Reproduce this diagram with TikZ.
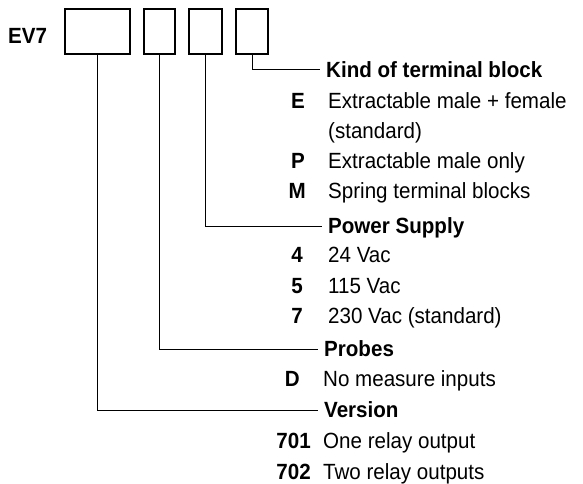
\documentclass[tikz,border=0pt]{standalone}
\usepackage{fontspec}
\setmainfont{Liberation Sans}[FakeStretch=0.935]
\usetikzlibrary{positioning}

\begin{document}
\begin{tikzpicture}[x=1pt, y=-1pt,
    every node/.style={font=\fontsize{22}{26}\selectfont, inner sep=0pt, text height=15.5pt, text depth=0pt},
    digit/.style={draw, line width=2pt, minimum height=45.6pt},
    head/.style={anchor=west, inner xsep=6pt, font=\fontsize{22}{26}\selectfont\bfseries},
    code/.style={anchor=east, font=\fontsize{22}{26}\selectfont\bfseries},
    desc/.style={anchor=west},
    lead/.style={line width=1pt}]
        \useasboundingbox (0,0) rectangle (583,484);

        % Model code and its four fields
        \node[anchor=west, font=\fontsize{22}{26}\selectfont\bfseries] (ev) at (8,36) {EV7};
        \node[digit, minimum width=65pt] (ver) at (97,31.5) {};
        \node[digit, minimum width=31.5pt] (prb) at (159.5,31.5) {};
        \node[digit, minimum width=33pt] (pwr) at (205.5,31.5) {};
        \node[digit, minimum width=32pt] (trm) at (252,31.5) {};

        % Headings
        \node[head] (trmh) at (320,70) {Kind of terminal block};
        \node[head] (pwrh) at (322,226) {Power Supply};
        \node[head] (prbh) at (318,349) {Probes};
        \node[head] (verh) at (318,410) {Version};

        % Leaders
        \draw[lead] (trm.south) |- (trmh.west);
        \draw[lead] (pwr.south) |- (pwrh.west);
        \draw[lead] (prb.south) |- (prbh.west);
        \draw[lead] (ver.south) |- (verh.west);

        % Kind of terminal block
        \node[code] (e) at (305,101) {E};
        \node[desc] (ed) at (328,101) {Extractable male + female};
        \node[desc] (es) at (328,131) {(standard)};
        \node[code] (p) at (305,161) {P};
        \node[desc] (pd) at (328,161) {Extractable male only};
        \node[code] (m) at (306,191) {M};
        \node[desc] (md) at (328,191) {Spring terminal blocks};

        % Power supply
        \node[code] (v4) at (303,255) {4};
        \node[desc] (v4d) at (328,255) {24 Vac};
        \node[code] (v5) at (303,286) {5};
        \node[desc] (v5d) at (328,286) {115 Vac};
        \node[code] (v7) at (303,316) {7};
        \node[desc] (v7d) at (328,316) {230 Vac (standard)};

        % Probes
        \node[code] (d) at (300,379) {D};
        \node[desc] (dd) at (323,379) {No measure inputs};

        % Version
        \node[code] (r1) at (311,441) {701};
        \node[desc] (r1d) at (323,441) {One relay output};
        \node[code] (r2) at (311,472) {702};
        \node[desc] (r2d) at (323,472) {Two relay outputs};
    \end{tikzpicture}
\end{document}
